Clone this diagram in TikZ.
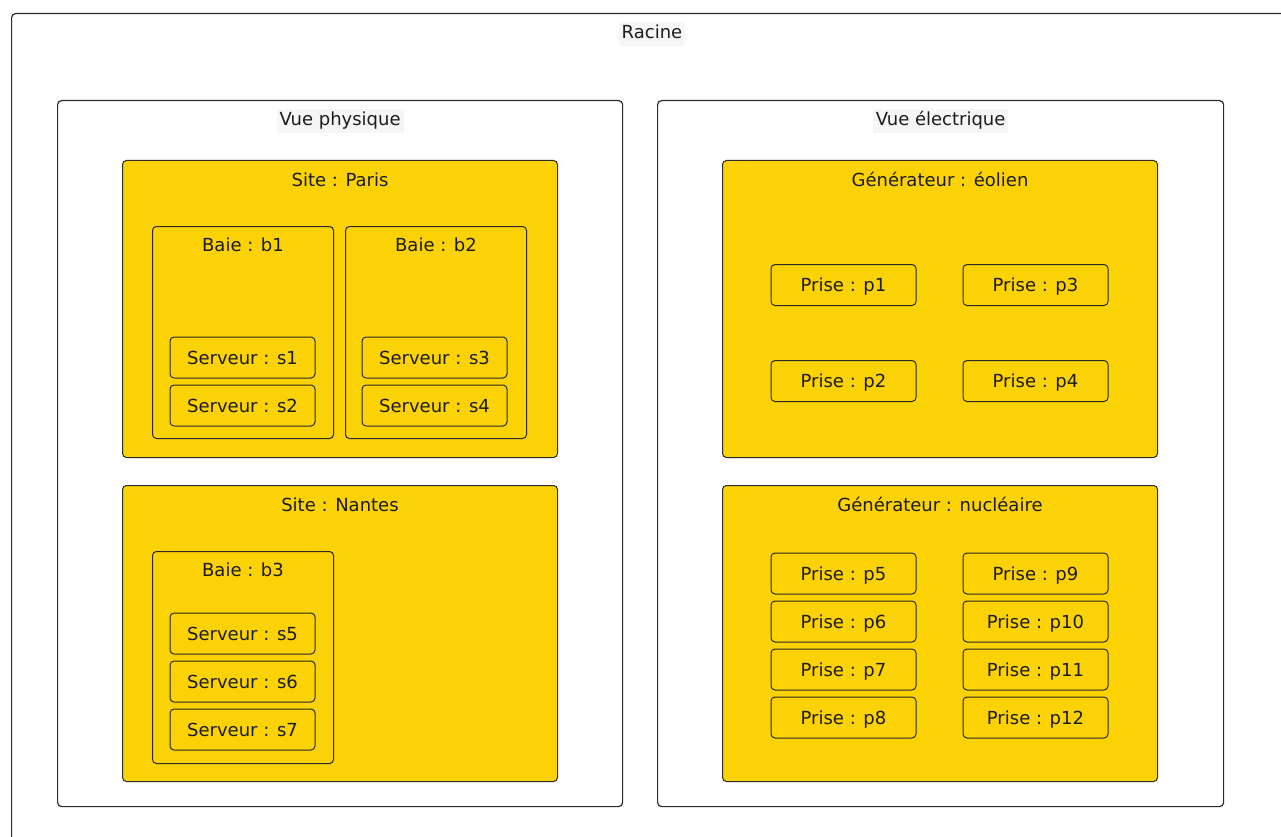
\documentclass[tikz,border=0pt]{standalone}
\usepackage{fontspec}
\setmainfont{DejaVu Sans}
\usetikzlibrary{positioning}
\definecolor{CYellow}{HTML}{FBD205}
\definecolor{CEdge}{HTML}{2A2A2A}
\definecolor{CText}{HTML}{1C1C1C}
\definecolor{CTitleBg}{HTML}{F6F6F6}

\begin{document}
\begin{tikzpicture}[x=1pt, y=-1pt, font=\fontsize{18}{20}\selectfont, text=CText,
    zone/.style={draw=CEdge, line width=1.2pt, rounded corners=4pt, inner sep=0pt, anchor=north west},
    group/.style={zone, fill=CYellow, line width=1pt},
    leaf/.style={draw=CEdge, line width=1pt, fill=CYellow, rounded corners=4pt,
        minimum width=145pt, minimum height=41pt, inner sep=0pt, text height=13pt, text depth=0pt},
    title/.style={anchor=north, inner sep=3pt, text height=13pt, text depth=5pt},
    zonetitle/.style={title, fill=CTitleBg}]

    \clip (0,0) rectangle (1281,837);
    \fill[white] (0,0) rectangle (1281,837);

    % --- 1. ROOT ---
    \node[zone, minimum width=1300, minimum height=850] (racine) at (11,13) {};
    \node[zonetitle] (racineT) at (652,22) {Racine};

    % --- 2. VIEWS ---
    \node[zone, minimum width=565, minimum height=706] (physique) at (57,100) {};
    \node[zonetitle, below=9pt of physique.north] (physiqueT) {Vue physique};

    \node[zone, minimum width=566, minimum height=706] (electrique) at (657,100) {};
    \node[zonetitle, below=9pt of electrique.north] (electriqueT) {Vue électrique};

    % --- 3. SITES ---
    \node[group, minimum width=435, minimum height=297] (paris) at (122,160) {};
    \node[title, below=10pt of paris.north] (parisT) {Site : Paris};

    \node[group, minimum width=435, minimum height=296] (nantes) at (122,485) {};
    \node[title, below=10pt of nantes.north] (nantesT) {Site : Nantes};

    % Racks
    \foreach \name/\x/\y in {b1/152/226, b2/345/226, b3/152/551} {
        \node[group, minimum width=181, minimum height=212] (\name) at (\x,\y) {};
        \node[title, below=9pt of \name.north] (\name T) {Baie : \name};
    }

    % Servers
    \foreach \n/\x/\y in {1/242.5/357.5, 2/242.5/405.5, 3/434.5/357.5, 4/434.5/405.5,
                          5/242.5/633.5, 6/242.5/681.5, 7/242.5/729.5} {
        \node[leaf] (s\n) at (\x,\y) {Serveur : s\n};
    }

    % --- 4. GENERATORS ---
    \node[group, minimum width=435, minimum height=297] (eolien) at (722,160) {};
    \node[title, below=10pt of eolien.north] (eolienT) {Générateur : éolien};

    \node[group, minimum width=435, minimum height=296] (nucleaire) at (722,485) {};
    \node[title, below=10pt of nucleaire.north] (nucleaireT) {Générateur : nucléaire};

    % Sockets
    \foreach \n/\x/\y in {1/843.5/285, 2/843.5/381, 3/1035.5/285, 4/1035.5/381,
                          5/843.5/573.5, 6/843.5/621.5, 7/843.5/669.5, 8/843.5/717.5,
                          9/1035.5/573.5, 10/1035.5/621.5, 11/1035.5/669.5, 12/1035.5/717.5} {
        \node[leaf] (p\n) at (\x,\y) {Prise : p\n};
    }

\end{tikzpicture}
\end{document}
